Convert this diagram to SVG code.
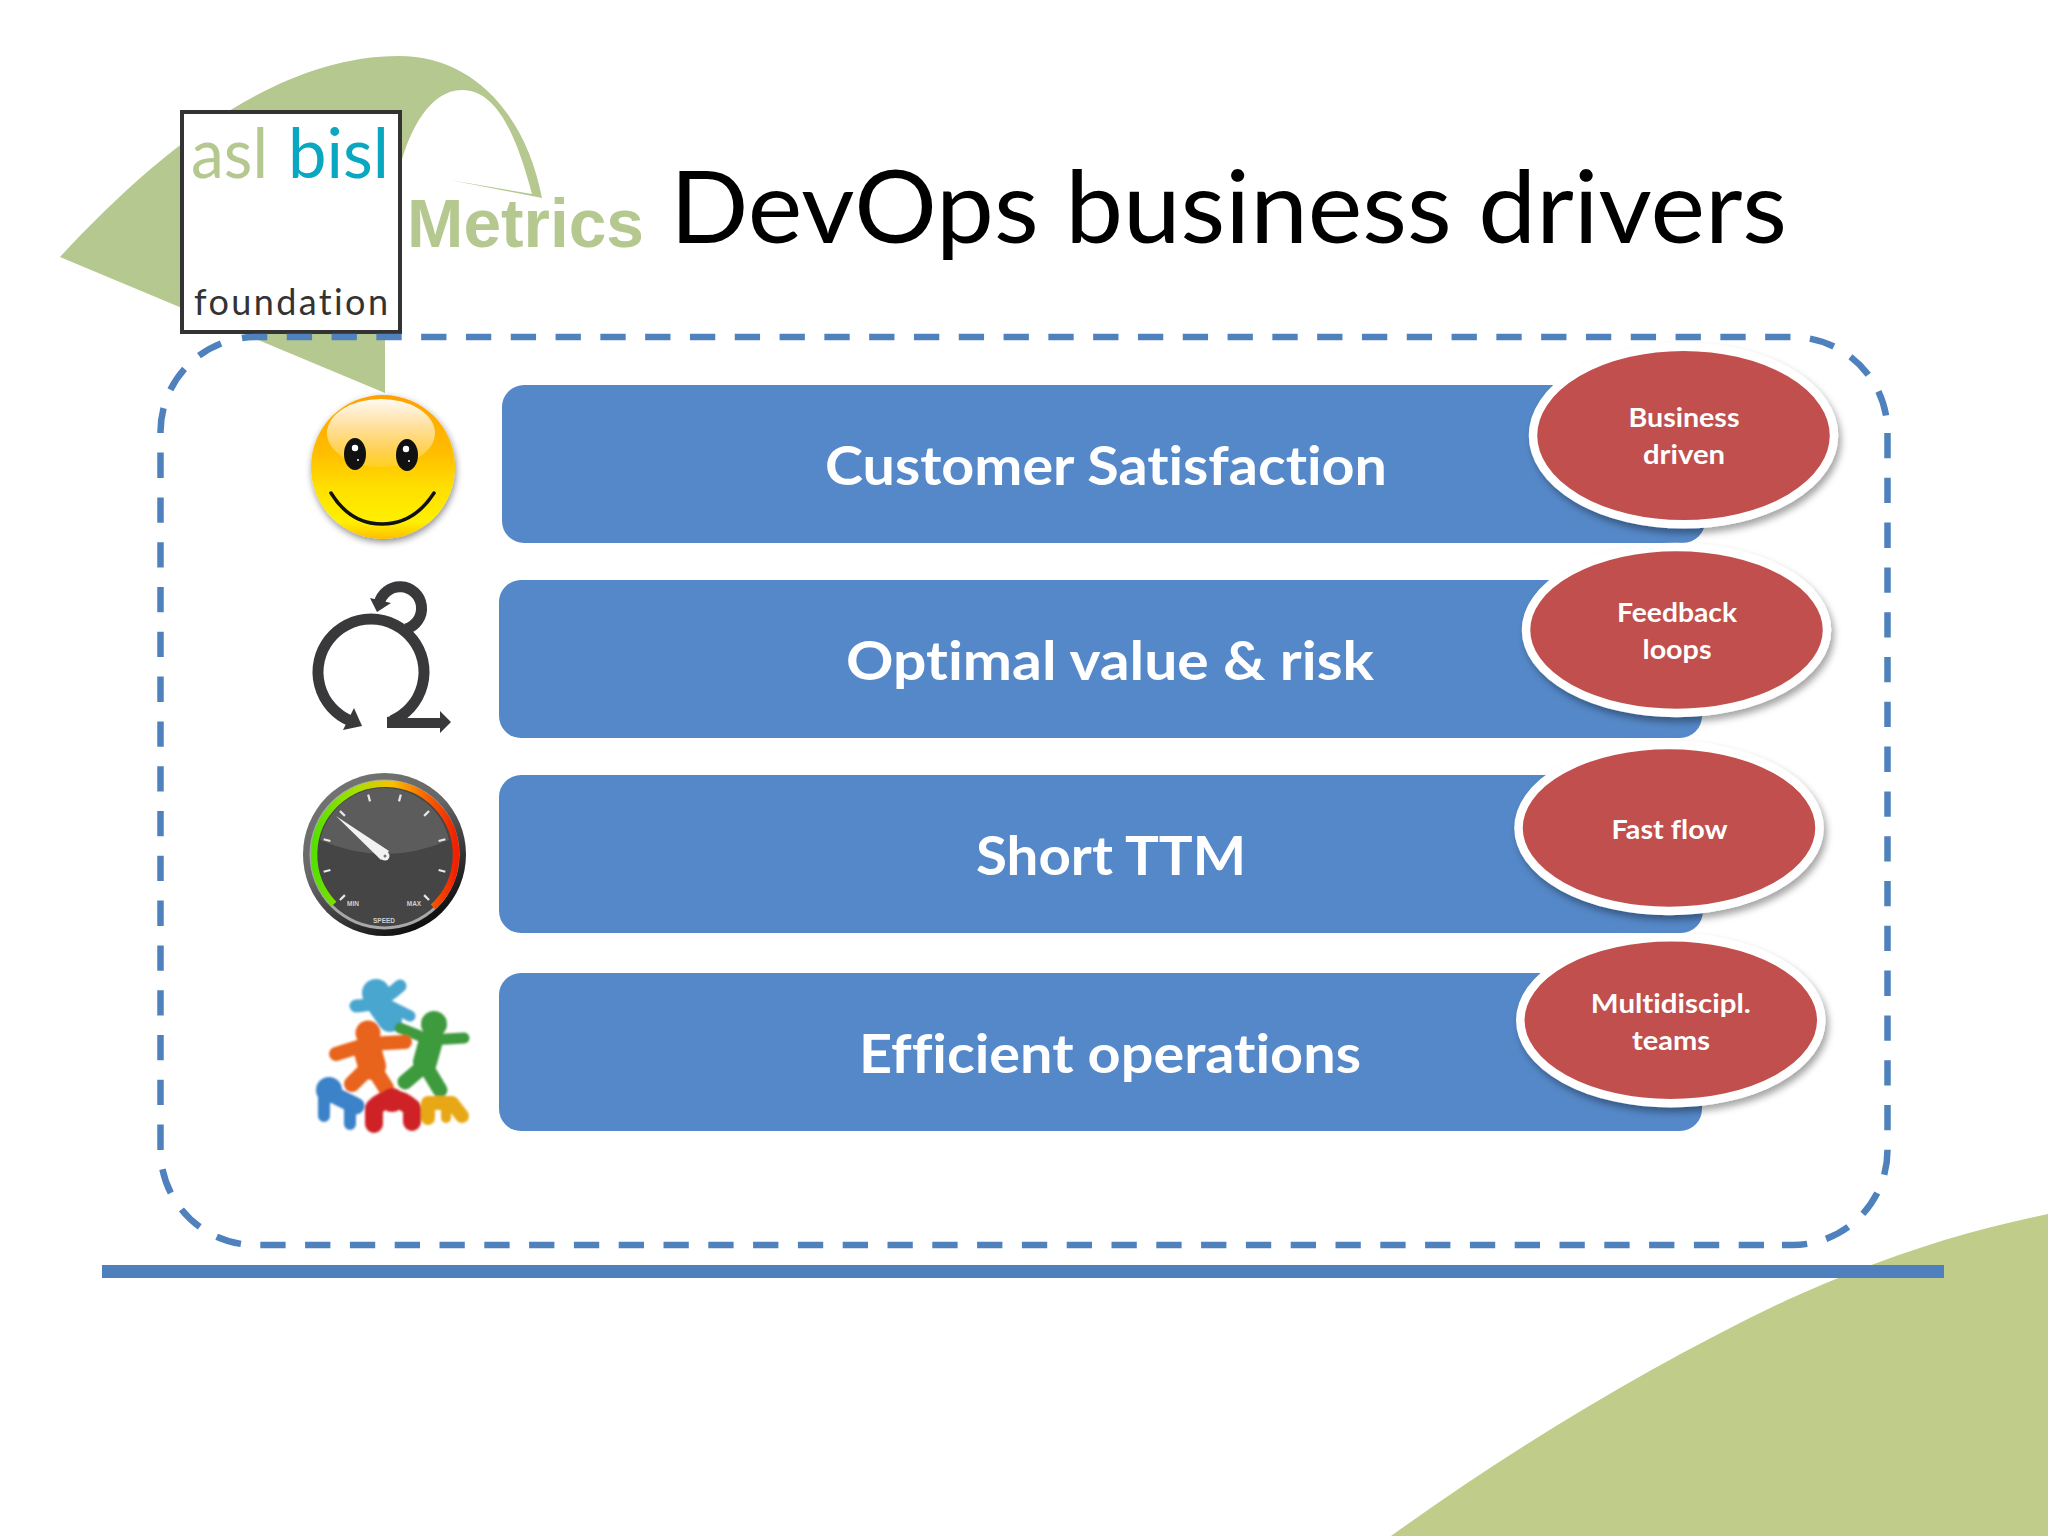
<svg xmlns="http://www.w3.org/2000/svg" width="2048" height="1536" viewBox="0 0 2048 1536">
<style>
text{font-family:"Lato","Open Sans","Liberation Sans",sans-serif;font-variant-ligatures:none}
.bar{fill:#5588c8}
.pill{fill:#c0504d;stroke:#fff;stroke-width:8.5;filter:url(#sh)}
.b{fill:#fff;font-weight:700;font-size:53px;text-anchor:middle}
.e{fill:#fff;font-weight:700;font-size:27px;text-anchor:middle}
.ic{fill:none;stroke:#39393b;stroke-width:11}
.ah{fill:#39393b}
.tk{stroke:#e8e8e8;stroke-width:2.2}
.gt{fill:#cfcfcf;font-weight:700;font-size:6.5px;font-family:"Liberation Sans",sans-serif;text-anchor:middle}
.lb{stroke-linecap:round;stroke-linejoin:round;fill:none}
</style>
<defs>
<filter id="sh" x="-10%" y="-10%" width="125%" height="130%"><feDropShadow dx="3" dy="5" stdDeviation="3.5" flood-color="#000" flood-opacity=".35"/></filter>
<filter id="ss" x="-15%" y="-15%" width="130%" height="135%"><feDropShadow dx="1" dy="3" stdDeviation="3.5" flood-color="#000" flood-opacity=".45"/></filter>
<filter id="bl" x="-10%" y="-10%" width="120%" height="120%"><feGaussianBlur stdDeviation="1.1"/></filter>
<linearGradient id="sm" x1="0" y1="0" x2="0" y2="1"><stop offset="0" stop-color="#ffa000"/><stop offset=".4" stop-color="#ffbe00"/><stop offset=".65" stop-color="#ffe000"/><stop offset=".88" stop-color="#fff000"/><stop offset="1" stop-color="#ffbe00"/></linearGradient>
<linearGradient id="hl" x1="0" y1="0" x2="0" y2="1"><stop offset="0" stop-color="#fff" stop-opacity=".95"/><stop offset="1" stop-color="#fff" stop-opacity=".12"/></linearGradient>
<linearGradient id="ring" x1="0" y1="0" x2=".6" y2="1"><stop offset="0" stop-color="#777"/><stop offset=".5" stop-color="#666"/><stop offset="1" stop-color="#111"/></linearGradient>
<linearGradient id="arc" x1="0" y1="0" x2="1" y2="0"><stop offset="0" stop-color="#55e000"/><stop offset=".3" stop-color="#a8e000"/><stop offset=".55" stop-color="#f8c000"/><stop offset=".8" stop-color="#f86000"/><stop offset="1" stop-color="#f02000"/></linearGradient>
</defs>

<path id="bg-shape-bottom" fill="#bfcc8a" d="M2048 1214C1960 1232 1880 1258 1787 1300C1650 1365 1510 1450 1391 1536H2048Z"/>
<path id="bg-shape-top" fill="#b5c88f" d="M60 257C150 160 270 56 399 56C470 56 525 110 542 198L450 180L532 194C515 130 495 90 462 90C430 90 410 130 401 163L385 340V393Z"/>

<g id="logo">
<rect x="182" y="112" width="218" height="220" fill="#fff" stroke="#333" stroke-width="4"/>
<text x="191" y="178" font-size="70" font-weight="400" fill="#b5c88f" textLength="77" lengthAdjust="spacingAndGlyphs">asl</text>
<text x="288" y="178" font-size="70" font-weight="400" fill="#0aa8c0" textLength="101" lengthAdjust="spacingAndGlyphs">bisl</text>
<text x="194" y="315" font-size="36" fill="#333" textLength="194" lengthAdjust="spacing">foundation</text>
</g>
<text id="metrics" x="407" y="247" font-size="68" font-weight="700" fill="#b5c88f" style="font-family:'Liberation Sans',sans-serif" textLength="237" lengthAdjust="spacingAndGlyphs">Metrics</text>
<text id="title" x="670" y="243" font-size="100" fill="#000" textLength="1117" lengthAdjust="spacingAndGlyphs">DevOps business drivers</text>

<rect id="rule" x="102" y="1265" width="1842" height="13" fill="#4f7fbd"/>

<g id="connectors">
<path id="frame" d="M1887.5 433V1150A95 95 0 0 1 1792.5 1245H1765M1764 1245H255.5A95 95 0 0 1 160.5 1150V432A95 95 0 0 1 235.7 339.1M242 338Q248 337 255.5 337H1792.5A95 95 0 0 1 1887.5 432" fill="none" stroke="#4f81bd" stroke-width="6.5" stroke-dasharray="25.3 19.5"/>
</g>

<g id="smiley">
<circle cx="383" cy="467" r="72" fill="url(#sm)" filter="url(#ss)"/>
<ellipse cx="381" cy="433" rx="54" ry="34" fill="url(#hl)"/>
<ellipse cx="355" cy="454" rx="11" ry="16" fill="#111"/>
<ellipse cx="407" cy="455" rx="11" ry="16" fill="#111"/>
<circle cx="355" cy="448" r="3.2" fill="#fff"/><circle cx="406" cy="449" r="3.2" fill="#fff"/>
<circle cx="358" cy="460" r="1" fill="#fff"/><circle cx="409" cy="461" r="1" fill="#fff"/>
<path d="M331 493Q350 524 382 524Q414 524 434 493" fill="none" stroke="#111" stroke-width="3.5" stroke-linecap="round"/>
</g>

<g id="feedback-icon">
<path class="ic" d="M350 720.7A53 53 0 1 1 392 720.7"/>
<path class="ic" d="M406 629A21.5 21.5 0 1 0 379 604"/>
<polygon class="ah" points="362,726 343,730 354,708"/>
<polygon class="ah" points="377,612 370,598 391,603"/>
<polygon class="ah" points="387,717 400,714 408,718 440,718 440,711 451,722 440,733 440,728 387,728"/>
</g>

<g id="gauge">
<circle cx="384.5" cy="854.5" r="81.5" fill="url(#ring)"/>
<circle cx="384.5" cy="854.5" r="75" fill="#a8a8a8"/>
<circle cx="384.5" cy="854.5" r="72" fill="#454545"/>
<path d="M320 840A66 66 0 0 1 449 840Q385 868 320 840Z" fill="#5c5c5c"/>
<path d="M334 904A71 71 0 1 1 433 907" fill="none" stroke="url(#arc)" stroke-width="6.5"/>
<g transform="translate(384.5 855.5)">
<path class="tk" d="M0-56V-63" transform="rotate(15)"/><path class="tk" d="M0-56V-63" transform="rotate(-15)"/>
<path class="tk" d="M0-56V-63" transform="rotate(45)"/><path class="tk" d="M0-56V-63" transform="rotate(-45)"/>
<path class="tk" d="M0-56V-63" transform="rotate(75)"/><path class="tk" d="M0-56V-63" transform="rotate(-75)"/>
<path class="tk" d="M0-56V-63" transform="rotate(105)"/><path class="tk" d="M0-56V-63" transform="rotate(-105)"/>
<path class="tk" d="M0-56V-63" transform="rotate(135)"/><path class="tk" d="M0-56V-63" transform="rotate(-135)"/>
</g>
<polygon points="336,816 389,851 381,860" fill="#f2f2f2"/>
<circle cx="385" cy="856" r="4.5" fill="#f2f2f2"/><circle cx="385" cy="856" r="1.5" fill="#777"/>
<text class="gt" x="353" y="906">MIN</text><text class="gt" x="414" y="906">MAX</text><text class="gt" x="384" y="923">SPEED</text>
</g>

<g id="people" filter="url(#bl)">
<g class="lb" stroke="#4aa6cf">
<path stroke-width="13" d="M356 1006Q378 1006 400 986"/><path stroke-width="24" d="M378 1003L390 1020"/><path stroke-width="11" d="M388 1005L410 1016"/>
<circle cx="376" cy="993" r="14" fill="#4aa6cf" stroke="none"/></g>
<g class="lb" stroke="#3d9a3e">
<circle cx="434" cy="1024" r="13" fill="#3d9a3e" stroke="none"/>
<path stroke-width="11" d="M400 1028L430 1040L464 1038"/><path stroke-width="24" d="M430 1044L425 1062"/><path stroke-width="15" d="M425 1065L405 1082M425 1065L440 1090"/></g>
<g class="lb" stroke="#e8641c">
<path stroke-width="14" d="M336 1054L368 1044L405 1042"/><path stroke-width="28" d="M368 1052L372 1066"/><path stroke-width="16" d="M370 1066L352 1084M372 1066L386 1088"/>
<circle cx="368" cy="1033" r="12.5" fill="#e8641c" stroke="none"/></g>
<g class="lb" stroke="#3a82c8">
<circle cx="329" cy="1090" r="13" fill="#3a82c8" stroke="none"/>
<path stroke-width="17" d="M332 1094L356 1106"/><path stroke-width="12" d="M324 1098V1116M350 1104V1124"/></g>
<g class="lb" stroke="#e8a818">
<path stroke-width="14" d="M428 1118V1103H452L462 1116"/><path stroke-width="10" d="M446 1106V1118"/></g>
<g class="lb" stroke="#cf2028">
<path stroke-width="18" d="M374 1124V1108Q392 1090 412 1108V1122"/>
<circle cx="392" cy="1100" r="12" fill="#cf2028" stroke="none"/></g>
</g>

<g id="row1"><rect class="bar" x="502" y="385" width="1203" height="158" rx="22"/><text class="b" x="1106" y="485" textLength="562" lengthAdjust="spacingAndGlyphs">Customer Satisfaction</text></g>
<g id="row2"><rect class="bar" x="499" y="580" width="1203" height="158" rx="22"/><text class="b" x="1110" y="680" textLength="528" lengthAdjust="spacingAndGlyphs">Optimal value &amp; risk</text></g>
<g id="row3"><rect class="bar" x="499" y="775" width="1204" height="158" rx="22"/><text class="b" x="1111" y="875" textLength="270" lengthAdjust="spacingAndGlyphs">Short TTM</text></g>
<g id="row4"><rect class="bar" x="499" y="973" width="1203" height="158" rx="22"/><text class="b" x="1110" y="1073" textLength="502" lengthAdjust="spacingAndGlyphs">Efficient operations</text></g>

<g id="badge1"><ellipse class="pill" cx="1683.5" cy="435.5" rx="150.5" ry="88.8"/><text class="e" x="1684" y="427" textLength="111" lengthAdjust="spacingAndGlyphs">Business</text><text class="e" x="1684" y="464" textLength="82" lengthAdjust="spacingAndGlyphs">driven</text></g>
<g id="badge2"><ellipse class="pill" cx="1676.5" cy="630" rx="150.5" ry="83"/><text class="e" x="1677" y="622" textLength="120" lengthAdjust="spacingAndGlyphs">Feedback</text><text class="e" x="1677" y="659" textLength="69" lengthAdjust="spacingAndGlyphs">loops</text></g>
<g id="badge3"><ellipse class="pill" cx="1669" cy="828" rx="150.5" ry="83"/><text class="e" x="1669.5" y="838.5" textLength="116" lengthAdjust="spacingAndGlyphs">Fast flow</text></g>
<g id="badge4"><ellipse class="pill" cx="1670.8" cy="1020.3" rx="150.5" ry="83"/><text class="e" x="1670.8" y="1012.7" textLength="160" lengthAdjust="spacingAndGlyphs">Multidiscipl.</text><text class="e" x="1671" y="1050" textLength="78" lengthAdjust="spacingAndGlyphs">teams</text></g>
</svg>
